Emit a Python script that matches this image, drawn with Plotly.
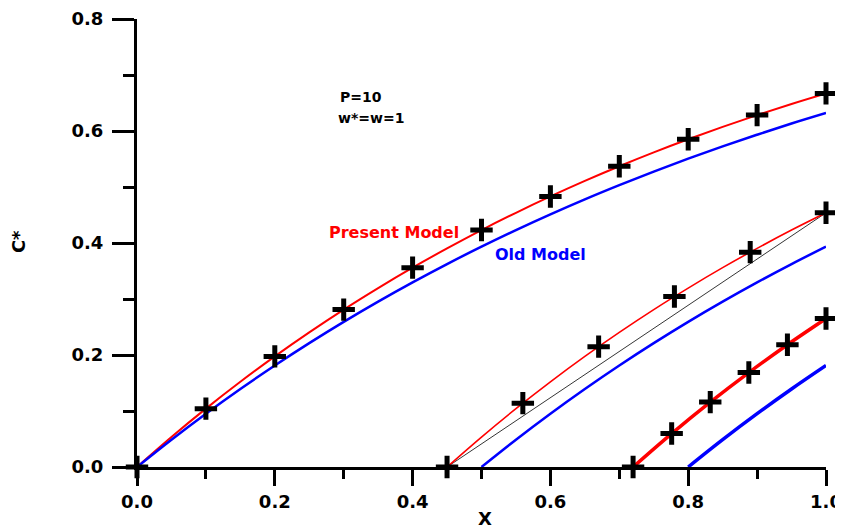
import plotly.graph_objects as go

# ---- data ----
x_red1 = [0, 0.05, 0.1, 0.15, 0.2, 0.25, 0.3, 0.35, 0.4, 0.45, 0.5, 0.55, 0.6, 0.65, 0.7, 0.75, 0.8, 0.85, 0.9, 0.95, 1.0]
y_red1 = [0, 0.0535, 0.1042, 0.1521, 0.1975, 0.2404, 0.2811, 0.3195, 0.3560, 0.3904, 0.4231, 0.4539, 0.4831, 0.5108, 0.5370, 0.5618, 0.5852, 0.6074, 0.6284, 0.6483, 0.6671]
x_blue1 = x_red1
y_blue1 = [0, 0.0488, 0.0952, 0.1393, 0.1813, 0.2212, 0.2592, 0.2953, 0.3297, 0.3624, 0.3935, 0.4231, 0.4512, 0.4780, 0.5034, 0.5276, 0.5507, 0.5726, 0.5934, 0.6133, 0.6321]
x_mk1 = [0, 0.1, 0.2, 0.3, 0.4, 0.5, 0.6, 0.7, 0.8, 0.9, 1.0]
y_mk1 = [0, 0.1042, 0.1975, 0.2811, 0.3560, 0.4231, 0.4831, 0.5370, 0.5852, 0.6284, 0.6671]

x_red2 = [0.45, 0.5, 0.55, 0.6, 0.65, 0.7, 0.75, 0.8, 0.85, 0.9, 0.95, 1.0]
y_red2 = [0, 0.0535, 0.1042, 0.1521, 0.1975, 0.2404, 0.2811, 0.3195, 0.3560, 0.3904, 0.4231, 0.4539]
x_blue2 = [0.5, 0.55, 0.6, 0.65, 0.7, 0.75, 0.8, 0.85, 0.9, 0.95, 1.0]
y_blue2 = [0, 0.0488, 0.0952, 0.1393, 0.1813, 0.2212, 0.2592, 0.2953, 0.3297, 0.3624, 0.3935]
x_mk2 = [0.45, 0.56, 0.67, 0.78, 0.89, 1.0]
y_mk2 = [0, 0.1140, 0.2149, 0.3044, 0.3837, 0.4539]
x_chord = [0.45, 1.0]
y_chord = [0, 0.4539]

x_red3 = [0.72, 0.776, 0.832, 0.888, 0.944, 1.0]
y_red3 = [0, 0.0597, 0.1159, 0.1687, 0.2184, 0.2651]
x_blue3 = [0.8, 0.85, 0.9, 0.95, 1.0]
y_blue3 = [0, 0.0488, 0.0952, 0.1393, 0.1813]
x_mk3 = x_red3
y_mk3 = y_red3

x_ticks = [0, 0.2, 0.4, 0.6, 0.8, 1.0]
y_ticks = [0, 0.2, 0.4, 0.6, 0.8]

FONT = "DejaVu Sans"
RED = "#ff0000"
BLUE = "#0000ff"

fig = go.Figure()

def line(x, y, color, width, shape="spline"):
    fig.add_trace(go.Scatter(x=x, y=y, mode="lines", line=dict(color=color, width=width, shape=shape),
                             showlegend=False, hoverinfo="skip", cliponaxis=False))

line(x_red1, y_red1, RED, 2)
line(x_blue1, y_blue1, BLUE, 2.5)
line(x_chord, y_chord, "black", 0.8, "linear")
line(x_red2, y_red2, RED, 1.6)
line(x_blue2, y_blue2, BLUE, 2.5)
line(x_red3, y_red3, RED, 3.5)
line(x_blue3, y_blue3, BLUE, 3.5)

for xm, ym in [(x_mk1, y_mk1), (x_mk2, y_mk2), (x_mk3, y_mk3)]:
    fig.add_trace(go.Scatter(x=xm, y=ym, mode="markers",
                             marker=dict(symbol="cross-thin", size=16, color="black",
                                         line=dict(color="black", width=5)),
                             showlegend=False, cliponaxis=False))

def note(x, y, text, color, size, xref="x", yref="y", anchor="left", angle=0):
    fig.add_annotation(x=x, y=y, xref=xref, yref=yref, text=text, showarrow=False,
                       xanchor=anchor, yanchor="middle", textangle=angle, borderpad=0,
                       font=dict(family=FONT, size=size, color=color, weight="bold"))

note(0.293, 0.661, "P=10", "black", 14)
note(0.290, 0.623, "w*=w=1", "black", 14)
note(0.277, 0.4196, "Present Model", RED, 16)
note(0.518, 0.3786, "Old Model", BLUE, 16)
note(0.505, -0.116, "X", "black", 18, "paper", "paper", "center")
note(-0.1727, 0.502, "C*", "black", 18, "paper", "paper", "center", -90)

tickfont = dict(family=FONT, size=18, color="black", weight="bold")

fig.update_xaxes(range=[0, 1], tickvals=x_ticks, tickformat=".1f", showgrid=False, zeroline=False,
                 showline=True, linecolor="black", linewidth=3, ticks="outside", ticklen=16,
                 tickwidth=3, tickcolor="black", tickfont=tickfont, automargin=False,
                 minor=dict(ticks="outside", ticklen=9, tickwidth=3, tickcolor="black", dtick=0.1, tick0=0, showgrid=False))
fig.update_yaxes(range=[0, 0.8], tickvals=y_ticks, tickformat=".1f", showgrid=False, zeroline=False,
                 showline=True, linecolor="black", linewidth=3, ticks="outside", ticklen=22,
                 tickwidth=3, tickcolor="black", tickfont=tickfont, automargin=False, ticklabelstandoff=5,
                 minor=dict(ticks="outside", ticklen=11, tickwidth=3, tickcolor="black", dtick=0.1, tick0=0, showgrid=False))

# page body has an 8px margin, so the figure is drawn 8px smaller with 8px less top/left margin
fig.update_layout(width=835, height=521, margin=dict(l=129, r=17, t=11, b=62),
                  plot_bgcolor="white", paper_bgcolor="white")

fig.write_html("out.html")
